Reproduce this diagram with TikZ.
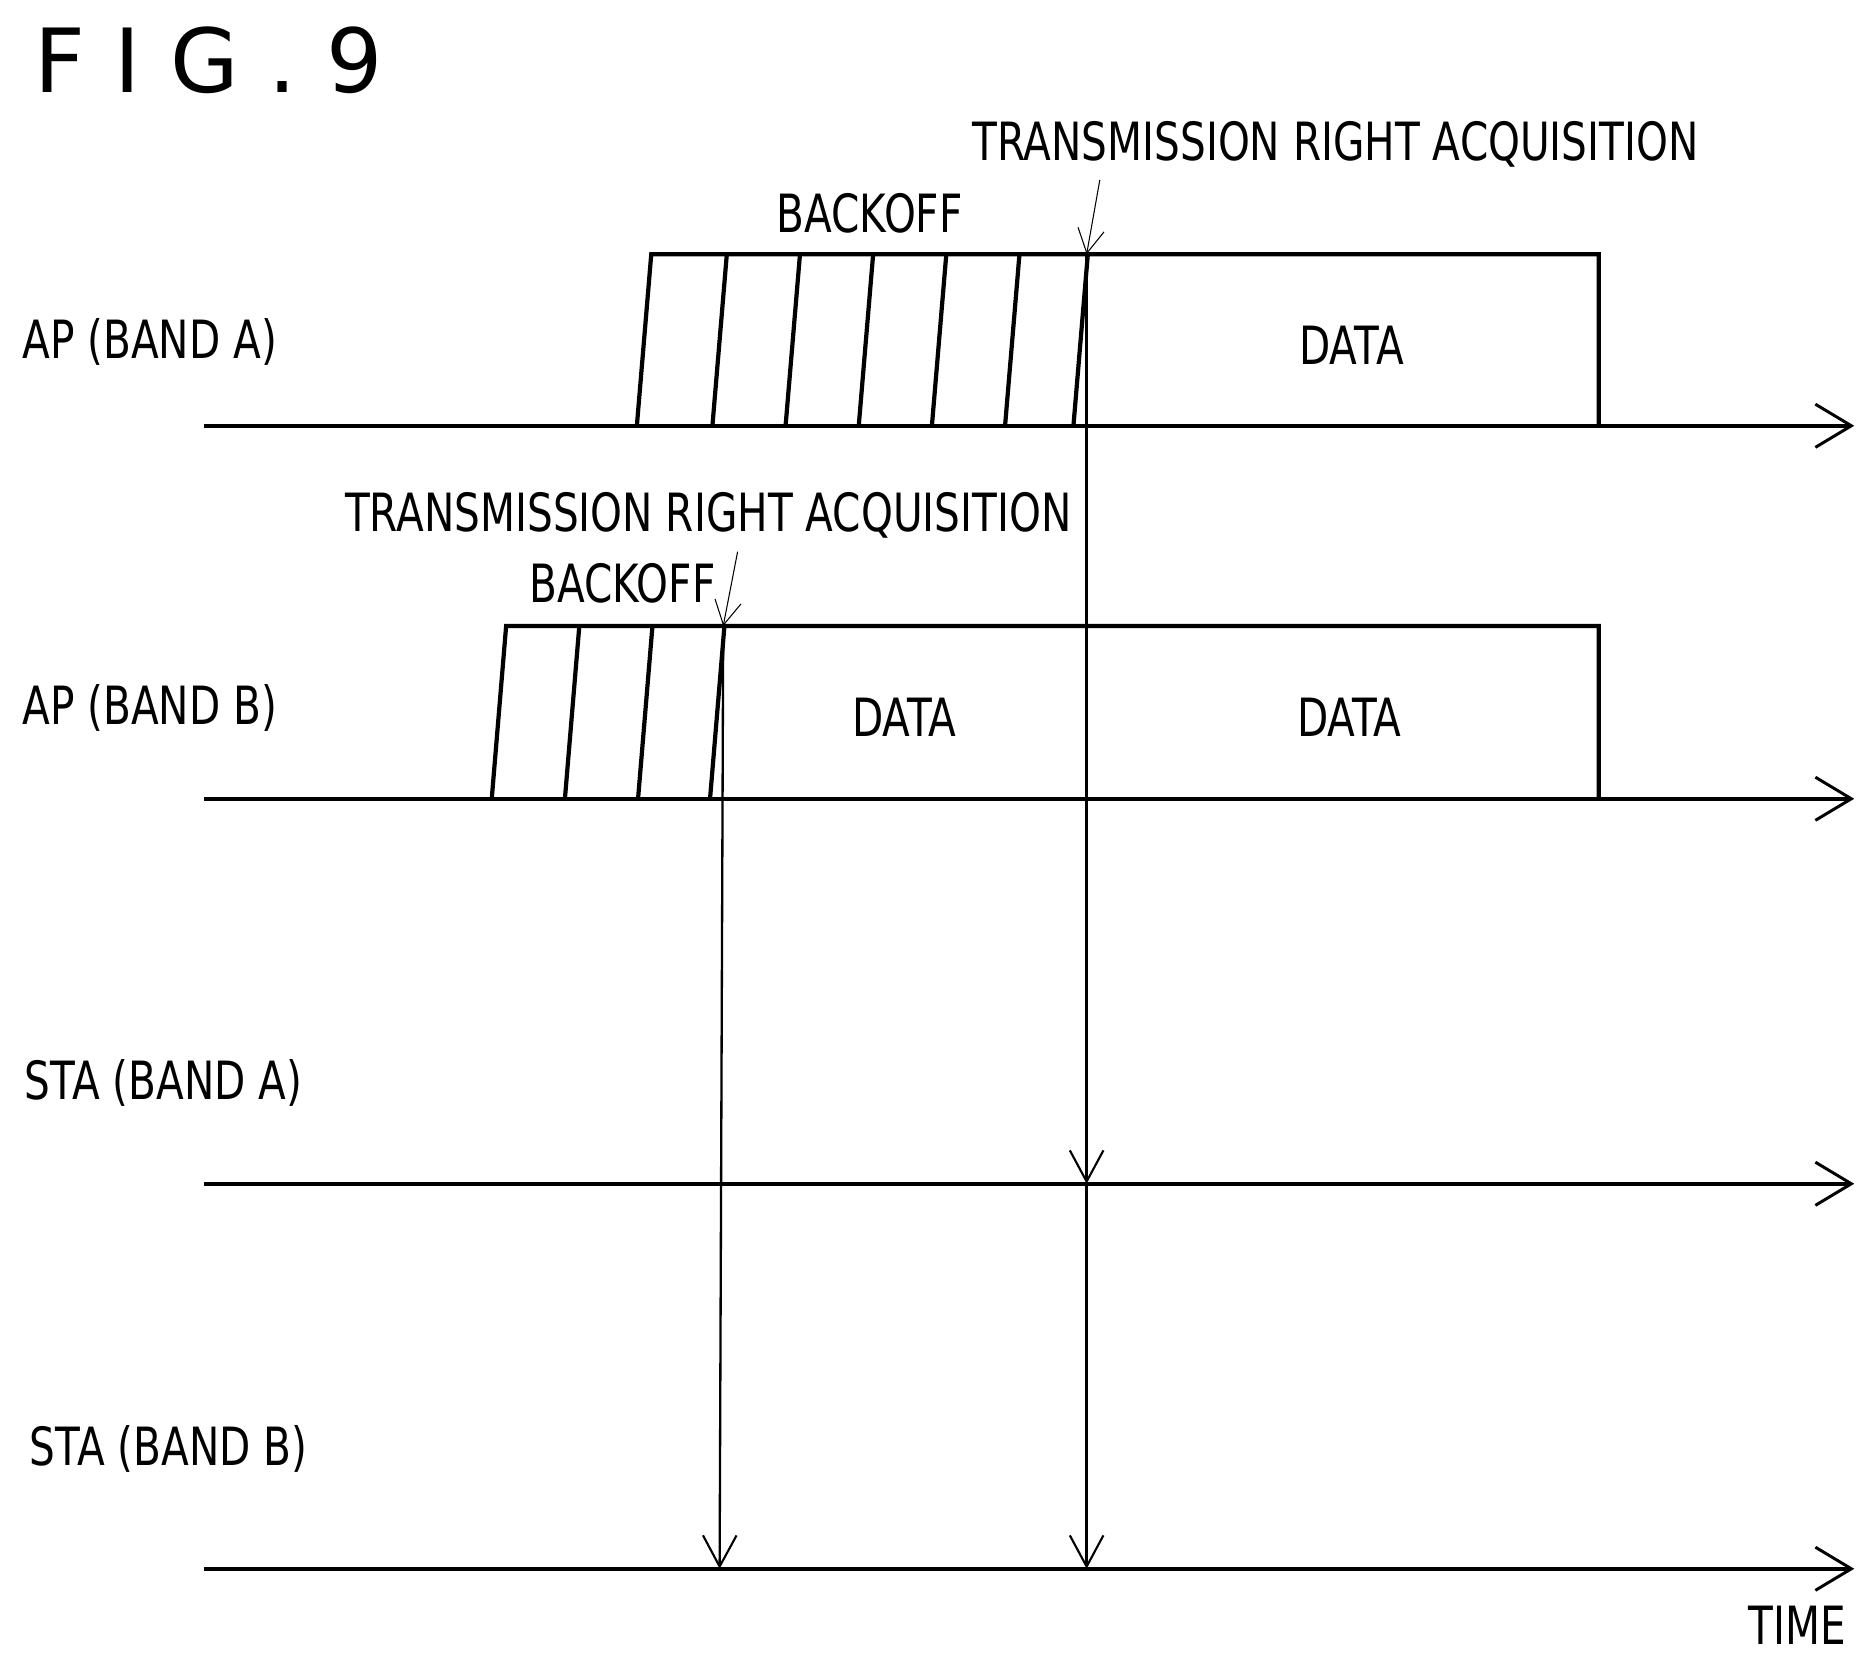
\documentclass[tikz,border=0pt]{standalone}
\usepackage{fontspec}
\setmainfont{DejaVu Sans}[FakeStretch=0.77]
\newfontfamily\figfont{DejaVu Sans}
\usetikzlibrary{arrows.meta}

\begin{document}
\begin{tikzpicture}[x=0.1mm, y=-0.1mm,
  axis/.style={line width=0.9pt, -{Straight Barb[length=3mm,width=3.6mm,line width=0.7pt]}},
  slot/.style={line width=1pt},
  trig/.style={line width=0.55pt, -{Straight Barb[length=2.6mm,width=2.8mm,line width=0.5pt]}},
  lead/.style={line width=0.25pt, -{Straight Barb[length=2mm,width=2.2mm,line width=0.25pt]}},
  lbl/.style={font=\fontsize{12.5}{14}\selectfont, inner sep=0pt}]
  \useasboundingbox (0,0) rectangle (1560,1384);
  \node[font=\figfont\fontsize{21}{24}\selectfont, anchor=west, inner sep=0pt] (fig) at (28,50) {F\,\,I\,\,G\,\,.\,\,9};
  % time axes
  \foreach \y/\n in {355/apa, 666/apb, 987/staa, 1308/stab}{
    \coordinate (\n0) at (170,\y);
    \coordinate (\n1) at (1546,\y);
    \draw[axis] (\n0) -- (\n1);
  }
  \node[lbl, anchor=west] (lapa) at (18,285) {AP (BAND A)};
  \node[lbl, anchor=west] (lapb) at (18,590) {AP (BAND B)};
  \node[lbl, anchor=west] (lstaa) at (20,903) {STA (BAND A)};
  \node[lbl, anchor=west] (lstab) at (24,1208) {STA (BAND B)};
  \node[lbl, anchor=east] (ltime) at (1540,1355) {TIME};
  % band A: backoff then data
  \draw[slot] (531,355) -- (543,212) -- (1333,212) -- (1333,355);
  \foreach \x in {594,655,716,777,838,895}
    \draw[slot] (\x,355) -- (\x+12,212);
  \coordinate (ga) at (906,212);
  \node[lbl] (boa) at (725,178) {BACKOFF};
  \node[lbl] (dataa) at (1127,288) {DATA};
  \node[lbl, anchor=west] (tra) at (810,120) {TRANSMISSION RIGHT ACQUISITION};
  \coordinate (tta) at (917,150);
  \draw[lead] (tta) -- (ga);
  % band B: backoff then data
  \draw[slot] (410,666) -- (422,522) -- (1333,522) -- (1333,666);
  \foreach \x in {471,532,592}
    \draw[slot] (\x,666) -- (\x+12,522);
  \coordinate (gb) at (603,522);
  \node[lbl] (bob) at (519,486) {BACKOFF};
  \node[lbl] (datab1) at (754,598) {DATA};
  \node[lbl] (datab2) at (1125,598) {DATA};
  \node[lbl, anchor=west] (trb) at (287,430) {TRANSMISSION RIGHT ACQUISITION};
  \coordinate (ttb) at (615,460);
  \draw[lead] (ttb) -- (gb);
  % notifications to STA
  \coordinate (sa) at (906,987);
  \coordinate (sb) at (906,1308);
  \coordinate (sc) at (600,1308);
  \draw[trig] (ga) -- (sa);
  \draw[trig] (sa) -- (sb);
  \draw[trig] (gb) -- (sc);
\end{tikzpicture}
\end{document}
